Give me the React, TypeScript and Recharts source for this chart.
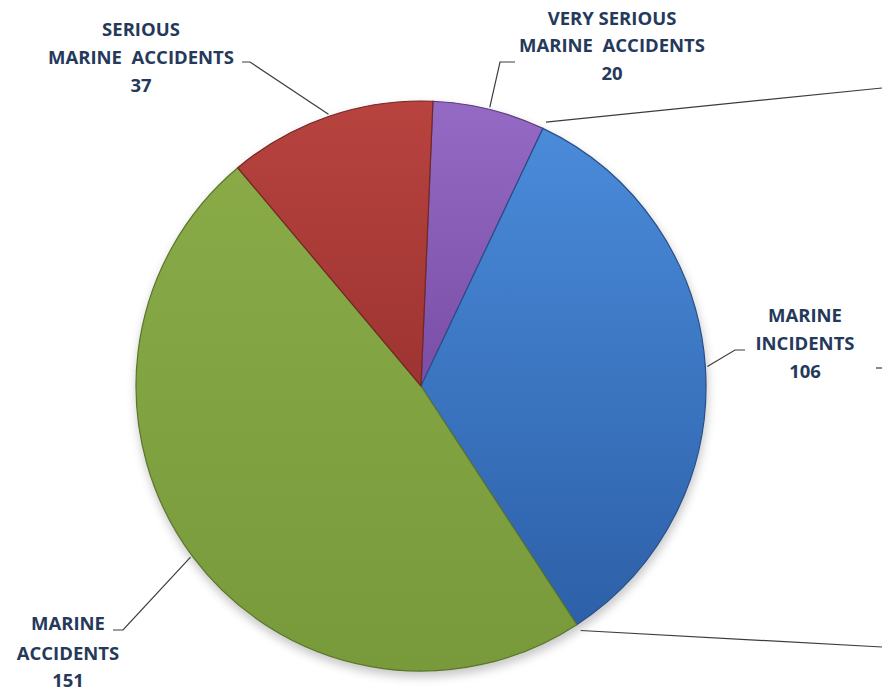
import { PieChart, Pie, Cell } from 'recharts'

// slices, clockwise from just right of 12 o'clock
const categories = ['VERY SERIOUS MARINE ACCIDENTS', 'MARINE INCIDENTS', 'MARINE ACCIDENTS', 'SERIOUS MARINE ACCIDENTS']
const labelLines = [
  ['VERY SERIOUS', 'MARINE  ACCIDENTS'],
  ['MARINE', 'INCIDENTS'],
  ['MARINE', 'ACCIDENTS'],
  ['SERIOUS', 'MARINE  ACCIDENTS'],
]
const values = [20, 106, 151, 37]

const data = categories.map((name, i) => ({ name, value: values[i] }))

const gradients = [
  { id: 'gPurple', from: '#946ac4', to: '#7a4ea6', stroke: '#5b3a80' },
  { id: 'gBlue', from: '#4a8bda', to: '#2d60a8', stroke: '#284f88' },
  { id: 'gGreen', from: '#89aa47', to: '#789a3b', stroke: '#5a762a' },
  { id: 'gRed', from: '#b8433f', to: '#9d3431', stroke: '#742624' },
]

// elbow / stub end of each leader, text centre and baselines
const labelLayout = [
  { elbow: [500, 62], stub: [515, 62], tx: 612, ty: [25, 52, 80] },
  { elbow: [735, 350], stub: [745, 350], tx: 805, ty: [322, 350, 378] },
  { elbow: [123, 630], stub: [113, 630], tx: 68, ty: [630, 660, 687] },
  { elbow: [250, 62], stub: [242, 62], tx: 141, ty: [36, 64, 92] },
]

const W = 882
const H = 693
const RADIAN = Math.PI / 180
const textColor = '#25395a'
const lineColor = '#3c3c3c'

const polar = (cx: number, cy: number, r: number, angle: number) => [
  cx + r * Math.cos(-angle * RADIAN),
  cy + r * Math.sin(-angle * RADIAN),
]

function renderLabel(props: any) {
  const { cx, cy, midAngle, outerRadius, index, value, startAngle, endAngle } = props
  const lay = labelLayout[index]
  const [px, py] = polar(cx, cy, outerRadius + 2, midAngle)
  const lines = [...labelLines[index], String(value)]
  return (
    <g key={`lbl-${index}`}>
      <polyline
        points={`${px},${py} ${lay.elbow[0]},${lay.elbow[1]} ${lay.stub[0]},${lay.stub[1]}`}
        fill="none"
        stroke={lineColor}
        strokeWidth={1.2}
      />
      {lines.map((t, i) => (
        <text
          key={i}
          x={lay.tx}
          y={lay.ty[i]}
          textAnchor="middle"
          fill={textColor}
          style={{ fontFamily: "'Open Sans', sans-serif", fontWeight: 700, fontSize: 18.5, whiteSpace: 'pre' }}
        >
          {t}
        </text>
      ))}
      {index === 1 && (
        <g>
          {/* leader lines to labels outside the picture */}
          {(() => {
            const [sx, sy] = polar(cx, cy, outerRadius + 7, startAngle)
            const [ex, ey] = polar(cx, cy, outerRadius + 7, endAngle)
            return (
              <>
                <line x1={sx} y1={sy} x2={W} y2={88} stroke={lineColor} strokeWidth={1.2} />
                <line x1={ex} y1={ey} x2={W} y2={647} stroke={lineColor} strokeWidth={1.2} />
                <line x1={W - 6} y1={368} x2={W} y2={368} stroke={lineColor} strokeWidth={1.2} />
              </>
            )
          })()}
        </g>
      )}
    </g>
  )
}

export default function App() {
  return (
    <div style={{ position: 'absolute', left: 0, top: 0, width: W, height: H, background: '#fff' }}>
      <PieChart width={W} height={H} margin={{ top: 0, right: 0, bottom: 0, left: 0 }}>
        <defs>
          {gradients.map((g) => (
            <linearGradient key={g.id} id={g.id} x1="0" y1="0" x2="0" y2="1">
              <stop offset="0%" stopColor={g.from} />
              <stop offset="100%" stopColor={g.to} />
            </linearGradient>
          ))}
        </defs>
        {/* soft drop shadow under the pie */}
        <Pie
          data={[{ value: 1 }]}
          dataKey="value"
          cx={422}
          cy={391}
          outerRadius={286}
          stroke="none"
          isAnimationActive={false}
          label={false}
          labelLine={false}
        >
          <Cell fill="#000" fillOpacity={0.22} style={{ filter: 'blur(5px)' }} />
        </Pie>
        <Pie
          data={data}
          dataKey="value"
          nameKey="name"
          cx={421}
          cy={386}
          outerRadius={285}
          startAngle={87.6}
          endAngle={-272.4}
          isAnimationActive={false}
          labelLine={false}
          label={renderLabel}
        >
          {data.map((d, i) => (
            <Cell key={d.name} fill={`url(#${gradients[i].id})`} stroke={gradients[i].stroke} strokeWidth={1.2} />
          ))}
        </Pie>
      </PieChart>
    </div>
  )
}
